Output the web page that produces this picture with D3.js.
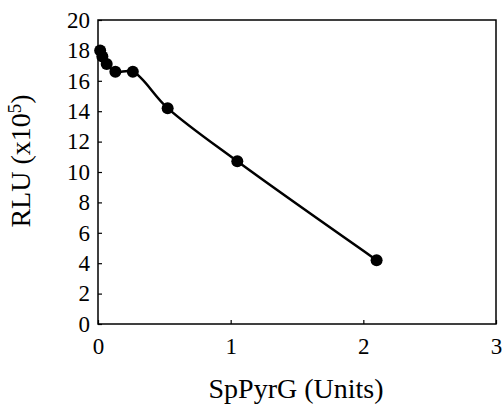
<!DOCTYPE html>
<html>
<head>
<meta charset="utf-8">
<script src="https://cdn.jsdelivr.net/npm/d3@7"></script>
<style>
  html, body { margin: 0; padding: 0; background: #fff; }
  svg text { font-family: "Liberation Serif", "Times New Roman", serif !important; fill: #000; }
</style>
</head>
<body>
<svg id="chart" width="503" height="411"></svg>
<script>
// SpPyrG dose (units) vs luminescence signal (RLU x10^5)
const units = [0.0164, 0.0328, 0.0656, 0.131, 0.2625, 0.525, 1.05, 2.1];
const rlu   = [18.0, 17.6, 17.1, 16.6, 16.6, 14.2, 10.7, 4.2];
const xTicks = [0, 1, 2, 3];
const yTicks = [0, 2, 4, 6, 8, 10, 12, 14, 16, 18, 20];

const margin = { left: 98, right: 7, top: 20, bottom: 87 };
const W = 503, H = 411;
const svg = d3.select("#chart");

const x = d3.scaleLinear().domain([0, 3]).range([margin.left, W - margin.right]);
const y = d3.scaleLinear().domain([0, 20]).range([H - margin.bottom, margin.top]);

// frame
svg.append("rect")
  .attr("x", x(0)).attr("y", y(20))
  .attr("width", x(3) - x(0)).attr("height", y(0) - y(20))
  .attr("fill", "none").attr("stroke", "#000").attr("stroke-width", 1.5);

// axes with inward ticks
const xAxis = svg.append("g")
  .attr("transform", `translate(0,${y(0)})`)
  .call(d3.axisBottom(x).tickValues(xTicks).tickSize(-4).tickPadding(14).tickFormat(d3.format("d")));
const yAxis = svg.append("g")
  .attr("transform", `translate(${x(0)},0)`)
  .call(d3.axisLeft(y).tickValues(yTicks).tickSize(-4).tickPadding(8).tickFormat(d3.format("d")));

[xAxis, yAxis].forEach(g => {
  g.attr("font-family", null).attr("font-size", null);
  g.select(".domain").remove();
  g.selectAll(".tick line").attr("stroke", "#000").attr("stroke-width", 1.2);
  g.selectAll(".tick text").style("font-size", "23px");
});

// data line
const pts = units.map((u, i) => [u, rlu[i]]);
svg.append("path")
  .datum(pts)
  .attr("fill", "none").attr("stroke", "#000").attr("stroke-width", 2.5)
  .attr("d", d3.line().x(d => x(d[0])).y(d => y(d[1])).curve(d3.curveCatmullRom.alpha(0.5)));

svg.append("g").selectAll("circle")
  .data(pts).join("circle")
  .attr("cx", d => x(d[0])).attr("cy", d => y(d[1]))
  .attr("r", 6).attr("fill", "#000");

// axis titles
svg.append("text")
  .attr("x", 296).attr("y", 398)
  .attr("text-anchor", "middle").style("font-size", "28px")
  .text("SpPyrG (Units)");

const yl = svg.append("text")
  .attr("transform", "translate(30,161) rotate(-90)")
  .attr("text-anchor", "middle").style("font-size", "28px");
yl.append("tspan").text("RLU (x10");
yl.append("tspan").style("font-size", "19px").attr("dy", -9).text("5");
yl.append("tspan").attr("dy", 9).text(")");
</script>
</body>
</html>
